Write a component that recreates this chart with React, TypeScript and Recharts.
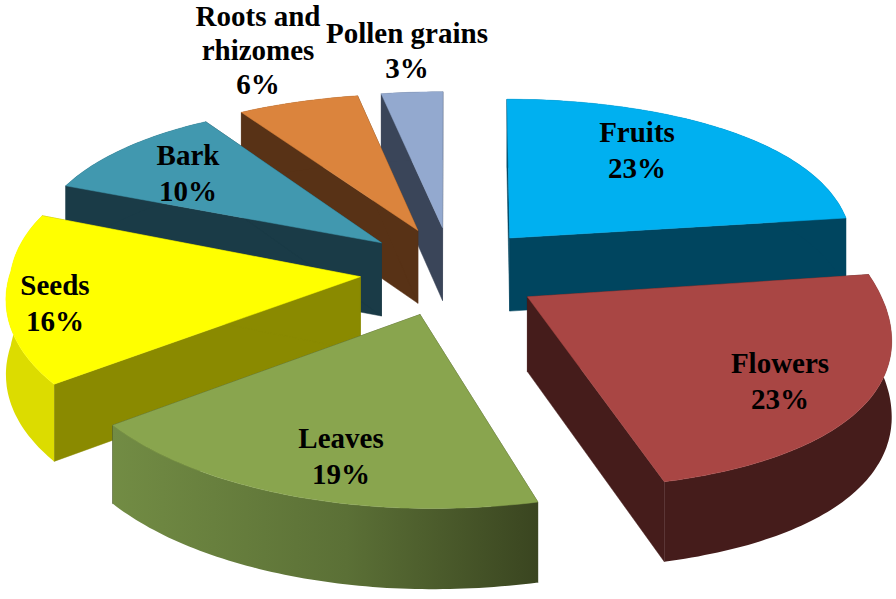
import React from 'react';
import { PieChart, Pie } from 'recharts';

const CATEGORIES = ['Fruits', 'Flowers', 'Leaves', 'Seeds', 'Bark', 'Roots and rhizomes', 'Pollen grains'];
const VALUES = [23, 23, 19, 16, 10, 6, 3];
const LABEL_LINES = [['Fruits'], ['Flowers'], ['Leaves'], ['Seeds'], ['Bark'], ['Roots and', 'rhizomes'], ['Pollen grains']];

const TOP_COLORS = ['#00b0f0', '#a94644', '#89a54e', '#ffff00', '#4198af', '#db843d', '#93a9cf'];
const EDGE_COLORS = ['#00455f', '#451c1b', '#3a4520', '#8a8a00', '#1a3b47', '#583216', '#3a4559'];
const ARC_COLORS = ['#00455f', '#451c1b', 'url(#leavesArc)', '#dcdc00', '#1a3b47', '#583216', '#3a4559'];

// back to front, the slices overlap once they are pulled apart
const PAINT_ORDER = [0, 6, 5, 4, 3, 1, 2];
const LABEL_POS = [[637, 142], [780, 373], [341, 448], [55, 295], [188, 165], [258, 26], [407, 43]];
const LABEL_GAP = [36, 36, 36, 36, 36, 34, 35];

const rows = CATEGORIES.map((name, i) => ({ name, value: VALUES[i] }));

const WIDTH = 896;
const HEIGHT = 599;
const PIE_CX = 451;
const PIE_CY = 271;
const RADIUS = 350;
const TILT = 0.5;
const EXPLODE = 0.26;
const DEPTH = 74;
const SPREAD = 11;

const RAD = Math.PI / 180;

// hand-fitted camera: the pie shrinks less behind than it grows in front
function project(cx: number, cy: number, r: number, u: number, v: number, z: number) {
  const dx = v < 0 ? 20 : u < 0 ? 9 : 5.6;
  const dy = v < 0 ? 5.5 : 15;
  const sx = (dx / (dx - v)) * (u > 0 ? 0.985 : 1);
  const sy = dy / (dy - v);
  const near = Math.max(0, v);
  return {
    x: cx + r * u * sx + SPREAD * near * near,
    y: cy + r * TILT * v * sy + DEPTH * z * (15 / (15 - v)),
  };
}

function toPath(pts: { x: number; y: number }[]) {
  return pts.map((p, i) => `${i ? 'L' : 'M'}${p.x.toFixed(1)} ${p.y.toFixed(1)}`).join(' ') + ' Z';
}

function Wedge(props: any) {
  const { cx, cy, outerRadius, startAngle, endAngle, index } = props;
  const mid = ((startAngle + endAngle) / 2) * RAD;
  const ou = EXPLODE * Math.cos(mid);
  const ov = -EXPLODE * Math.sin(mid);
  const steps = Math.max(2, Math.ceil(Math.abs(endAngle - startAngle)));
  const at = (z: number) => {
    const pts = [];
    for (let s = 0; s <= steps; s++) {
      const a = (startAngle + ((endAngle - startAngle) * s) / steps) * RAD;
      pts.push(project(cx, cy, outerRadius, ou + Math.cos(a), ov - Math.sin(a), z));
    }
    return pts;
  };
  const top = at(0);
  const bottom = at(1);
  const apex = project(cx, cy, outerRadius, ou, ov, 0);
  const apexLow = project(cx, cy, outerRadius, ou, ov, 1);
  const edge = EDGE_COLORS[index];
  const arc = ARC_COLORS[index];
  const fill = TOP_COLORS[index];
  return (
    <g>
      <path d={toPath([apex, top[0], bottom[0], apexLow])} fill={edge} stroke={edge} strokeWidth={0.5} />
      <path d={toPath([apex, top[steps], bottom[steps], apexLow])} fill={edge} stroke={edge} strokeWidth={0.5} />
      <path d={toPath([...top, ...bottom.slice().reverse()])} fill={arc} />
      <path d={toPath([apex, ...top])} fill={fill} stroke={fill} strokeWidth={0.5} />
    </g>
  );
}

function renderLabel(props: any) {
  const { index } = props;
  const [x, y] = LABEL_POS[index];
  const lines = [...LABEL_LINES[index], `${VALUES[index]}%`];
  return (
    <text
      key={index}
      x={x}
      y={y}
      textAnchor="middle"
      fontFamily="'Liberation Serif', serif"
      fontWeight="bold"
      fontSize={29}
      fill="#000"
    >
      {lines.map((line, i) => (
        <tspan key={line} x={x} dy={i ? LABEL_GAP[index] : 0}>
          {line}
        </tspan>
      ))}
    </text>
  );
}

function slicePainter(slice: number) {
  return (props: any) => (props.index === slice ? <Wedge {...props} /> : <g />);
}

export default function App() {
  return (
    <div style={{ position: 'absolute', left: 0, top: 0, width: WIDTH, height: HEIGHT, background: '#fff' }}>
      <PieChart width={WIDTH} height={HEIGHT} margin={{ top: 0, right: 0, bottom: 0, left: 0 }}>
        <defs>
          <linearGradient id="leavesArc" x1="0" y1="0" x2="1" y2="0">
            <stop offset="0%" stopColor="#728c44" />
            <stop offset="55%" stopColor="#5b7036" />
            <stop offset="100%" stopColor="#3a4520" />
          </linearGradient>
        </defs>
        {PAINT_ORDER.map((slice) => (
          <Pie
            key={slice}
            data={rows}
            dataKey="value"
            nameKey="name"
            cx={PIE_CX}
            cy={PIE_CY}
            innerRadius={0}
            outerRadius={RADIUS}
            startAngle={90}
            endAngle={-270}
            stroke="none"
            isAnimationActive={false}
            shape={slicePainter(slice)}
          />
        ))}
        <Pie
          data={rows}
          dataKey="value"
          nameKey="name"
          cx={PIE_CX}
          cy={PIE_CY}
          outerRadius={RADIUS}
          startAngle={90}
          endAngle={-270}
          fill="none"
          stroke="none"
          isAnimationActive={false}
          shape={() => <g />}
          label={renderLabel}
          labelLine={false}
        />
      </PieChart>
    </div>
  );
}
